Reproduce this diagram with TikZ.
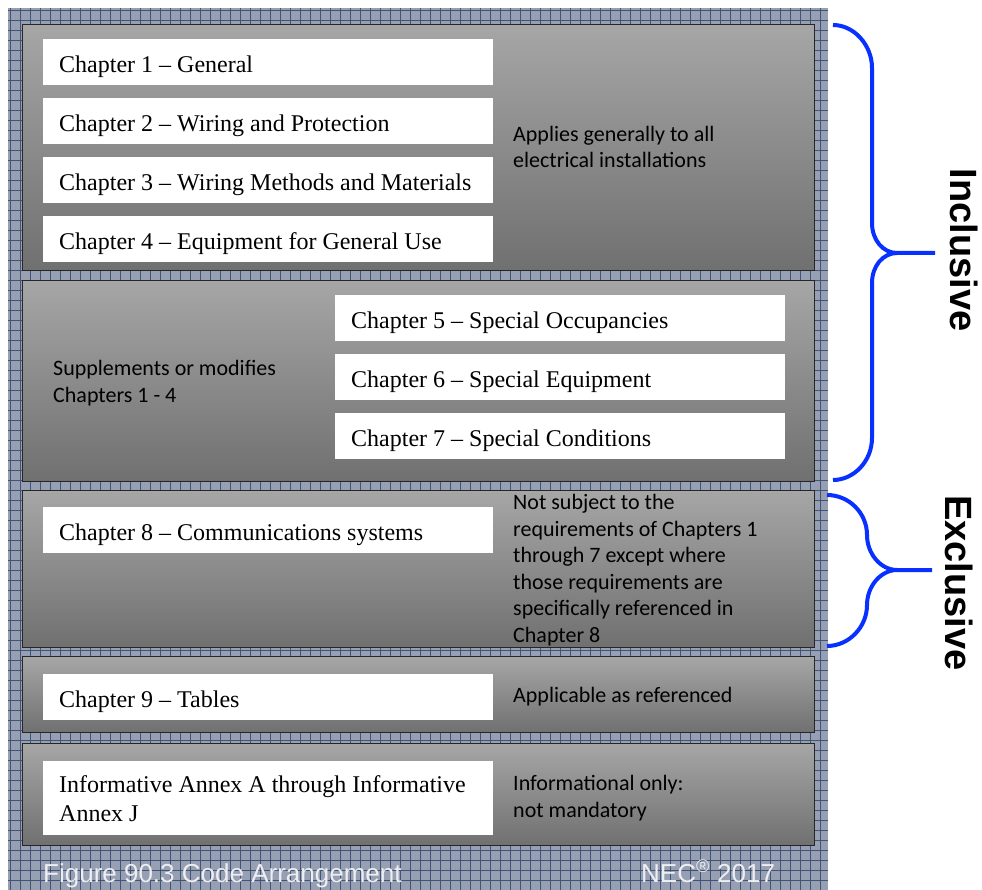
\documentclass[tikz,border=0pt]{standalone}
\usepackage{fontspec}
\usepackage{tikz}
\setmainfont{Liberation Serif}
\newfontfamily\calfont{Carlito}
\newfontfamily\arialfont{Liberation Sans}
\definecolor{gridbg}{RGB}{150,160,178}
\definecolor{gridln}{RGB}{66,84,118}
\definecolor{pantop}{RGB}{166,166,166}
\definecolor{panbot}{RGB}{112,112,112}
\definecolor{brblue}{RGB}{8,48,255}
\definecolor{foot}{RGB}{238,238,242}

\begin{document}
\begin{tikzpicture}[x=1pt,y=-1pt,
	panel/.style={draw=black!85,line width=1.4pt,top color=pantop,bottom color=panbot,minimum width=792pt,anchor=north west},
	box/.style={fill=white,anchor=north west,minimum width=450pt,text width=418pt,inner xsep=16pt,align=flush left,font=\fontsize{24}{29}\selectfont},
	chap/.style={box,minimum height=46pt,text height=20pt,text depth=0pt},
	note/.style={anchor=base west,align=left,font=\calfont\fontsize{22}{26.5}\selectfont},
	brace/.style={brblue,line width=4pt,line join=round},
	side/.style={rotate=-90,font=\arialfont\bfseries\fontsize{38}{44}\selectfont},
	foottext/.style={anchor=base west,text=foot,font=\arialfont\fontsize{26}{30}\selectfont}]
	\tikzstyle{every node}+=[inner sep=0pt]
	\useasboundingbox (0,0) rectangle (982,890);
	% patterned backdrop
	\fill [gridbg] (8,8) rectangle (828,890);
	\draw [gridln,line width=0.5pt,step=10pt] (8,890) grid (828,8);
	% panels
	\node (p1) [panel,minimum height=246pt] at (22,24) {};
	\node (p2) [panel,minimum height=201pt] at (22,280) {};
	\node (p3) [panel,minimum height=157pt] at (22,490) {};
	\node (p4) [panel,minimum height=76pt] at (22,656) {};
	\node (p5) [panel,minimum height=102pt] at (22,743) {};
	% chapter boxes
	\node (c1) [chap] at (43,39) {Chapter 1 – General};
	\node (c2) [chap] at (43,98) {Chapter 2 – Wiring and Protection};
	\node (c3) [chap] at (43,157) {Chapter 3 – Wiring Methods and Materials};
	\node (c4) [chap] at (43,216) {Chapter 4 – Equipment for General Use};
	\node (c5) [chap] at (335,295) {Chapter 5 – Special Occupancies};
	\node (c6) [chap] at (335,354) {Chapter 6 – Special Equipment};
	\node (c7) [chap] at (335,413) {Chapter 7 – Special Conditions};
	\node (c8) [chap] at (43,507) {Chapter 8 – Communications systems};
	\node (c9) [chap] at (43,674) {Chapter 9 – Tables};
	\node (ax) [box,minimum height=74pt] at (43,761) {Informative Annex A through Informative\\Annex J};
	% notes (base = last line)
	\node (n1) [note] at (513,168) {Applies generally to all\\electrical installations};
	\node (n2) [note] at (53,402) {Supplements or modifies\\Chapters 1 - 4};
	\node (n3) [note] at (513,642) {Not subject to the\\requirements of Chapters 1\\through 7 except where\\those requirements are\\specifically referenced in\\Chapter 8};
	\node (n4) [note] at (513,702) {Applicable as referenced};
	\node (n5) [note] at (513,817) {Informational only:\\not mandatory};
	% braces
	\draw [brace] (833,25) .. controls (854,25) and (872,45) .. (872,68) -- (872,223)
		.. controls (872,240) and (883,253) .. (897,253)
		.. controls (883,253) and (872,266) .. (872,283) -- (872,438)
		.. controls (872,461) and (854,480) .. (833,480)
		(897,253) -- (935,253);
	\draw [brace] (827,495) .. controls (849,495) and (867,513) .. (867,535)
		.. controls (867,554) and (881,570) .. (897,570)
		.. controls (881,570) and (867,586) .. (867,605)
		.. controls (867,627) and (849,646) .. (827,646)
		(897,570) -- (932,570);
	\node (inc) [side] at (964,250) {Inclusive};
	\node (exc) [side] at (959,583) {Exclusive};
	% footer
	\node (fig) [foottext] at (43,882) {Figure 90.3 Code Arrangement};
	\node (nec) [foottext] at (641,882) {NEC\textsuperscript{\textregistered} 2017};
\end{tikzpicture}
\end{document}
